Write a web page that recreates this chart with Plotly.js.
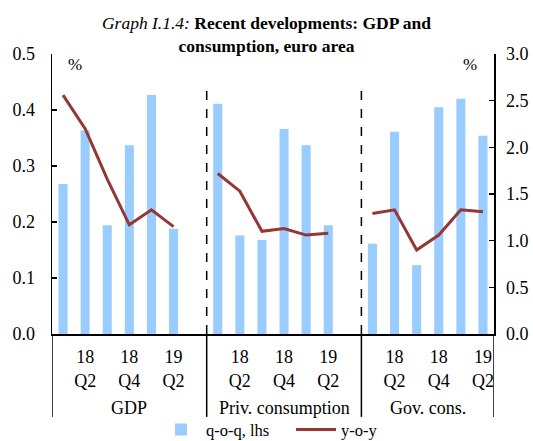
<!DOCTYPE html>
<html><head><meta charset="utf-8">
<script src="https://cdn.plot.ly/plotly-3.0.1.min.js"></script>
<style>html,body{margin:0;padding:0;background:#fff}#chart{width:533px;height:441px}</style>
</head><body><div id="chart"></div>
<script>
const groups = ['GDP', 'Priv. consumption', 'Gov. cons.'];
const quarters = ['18 Q1', '18 Q2', '18 Q3', '18 Q4', '19 Q1', '19 Q2'];
const tickQuarters = ['18 Q2', '18 Q4', '19 Q2'];
const qoqGDP  = [0.268, 0.364, 0.194, 0.337, 0.427, 0.188];
const qoqPriv = [0.411, 0.176, 0.168, 0.366, 0.337, 0.194];
const qoqGov  = [0.161, 0.361, 0.123, 0.405, 0.420, 0.354];
const yoyGDP  = [2.56, 2.20, 1.66, 1.17, 1.33, 1.15];
const yoyPriv = [1.72, 1.53, 1.10, 1.13, 1.06, 1.08];
const yoyGov  = [1.29, 1.33, 0.90, 1.06, 1.33, 1.31];
const titleText = '<i>Graph I.1.4:</i> <b>Recent developments: GDP and<br>consumption, euro area</b>';

const qoqAll = [qoqGDP, qoqPriv, qoqGov];
const yoyAll = [yoyGDP, yoyPriv, yoyGov];

const cats = [], qoq = [], yoy = [], tickvals = [], ticktext = [], dividers = [-0.5];
groups.forEach((g, gi) => {
  quarters.forEach((q, qi) => {
    const c = g + ' ' + q;
    cats.push(c); qoq.push(qoqAll[gi][qi]); yoy.push(yoyAll[gi][qi]);
    if (tickQuarters.includes(q)) { tickvals.push(c); ticktext.push(q.replace(' ', '<br>')); }
  });
  if (gi < groups.length - 1) { cats.push(g + ' gap'); qoq.push(null); yoy.push(null); }
  dividers.push(cats.length - 0.5);
});

const FONT = '"Liberation Serif", "Times New Roman", serif';
const shapes = [];
dividers.forEach(d => shapes.push({type: 'line', xref: 'x', yref: 'paper', x0: d, x1: d, y0: 0, y1: -0.296, line: {color: '#000', width: 1.5}}));
shapes.push({type: 'line', xref: 'x', yref: 'paper', x0: dividers[1], x1: dividers[1], y0: 0, y1: 0.886, line: {color: '#000', width: 1.5, dash: 'dash'}});
shapes.push({type: 'line', xref: 'x', yref: 'paper', x0: dividers[2], x1: dividers[2], y0: 0, y1: 0.868, line: {color: '#000', width: 1.5, dash: 'dash'}});

const annotations = groups.map((g, gi) => ({text: g, xref: 'x', yref: 'paper', x: (dividers[gi] + dividers[gi + 1]) / 2, xanchor: 'center', y: -0.264, yanchor: 'middle', showarrow: false, font: {family: FONT, size: 18, color: '#000'}}));
annotations.push({text: '%', xref: 'paper', yref: 'paper', x: (75 - 52) / 442, xanchor: 'center', y: (334 - 64) / 280, yanchor: 'middle', showarrow: false, font: {family: FONT, size: 17, color: '#000'}});
annotations.push({text: '%', xref: 'paper', yref: 'paper', x: (470 - 52) / 442, xanchor: 'center', y: (334 - 64) / 280, yanchor: 'middle', showarrow: false, font: {family: FONT, size: 17, color: '#000'}});

const data = [
  {type: 'bar', name: 'q-o-q, lhs', x: cats, y: qoq, marker: {color: '#99CCFF'}, yaxis: 'y'},
  {type: 'scatter', mode: 'lines', name: 'y-o-y', x: cats, y: yoy, yaxis: 'y2', line: {color: '#953735', width: 3}, connectgaps: false}
];

const layout = {
  width: 533, height: 441,
  margin: {l: 52, r: 39, t: 54, b: 107, autoexpand: false},
  paper_bgcolor: '#fff', plot_bgcolor: '#fff',
  font: {family: FONT, size: 18, color: '#000'},
  title: {text: titleText, x: 0.5, xref: 'container', xanchor: 'center', y: 1 - 29 / 441, yref: 'container', yanchor: 'middle', font: {family: FONT, size: 17.5, color: '#000'}},
  bargap: 0.59,
  showlegend: true,
  legend: {orientation: 'h', x: (156 - 52) / 442, xanchor: 'left', y: -0.342, yanchor: 'middle', font: {family: FONT, size: 16.5, color: '#000'}, itemwidth: 40, entrywidth: 80, bgcolor: 'rgba(0,0,0,0)'},
  xaxis: {type: 'category', categoryorder: 'array', categoryarray: cats, range: [-0.5, cats.length - 0.5], tickmode: 'array', tickvals: tickvals, ticktext: ticktext, ticks: '', showline: true, linecolor: '#000', linewidth: 1.5, showgrid: false, zeroline: false, tickfont: {family: FONT, size: 18}, tickangle: 0, ticklabelstandoff: 6},
  yaxis: {range: [0, 0.5], dtick: 0.1, tickformat: '.1f', ticks: 'inside', ticklen: 5, tickwidth: 1.5, tickcolor: '#000', showline: true, linecolor: '#000', linewidth: 1.5, showgrid: false, zeroline: false, tickfont: {family: FONT, size: 18}, ticklabelstandoff: 12},
  yaxis2: {range: [0, 3], dtick: 0.5, tickformat: '.1f', overlaying: 'y', side: 'right', ticks: 'inside', ticklen: 5, tickwidth: 1.5, tickcolor: '#000', showline: true, linecolor: '#000', linewidth: 1.5, showgrid: false, zeroline: false, tickfont: {family: FONT, size: 18}, ticklabelstandoff: 7},
  shapes: shapes,
  annotations: annotations
};
Plotly.newPlot('chart', data, layout, {displayModeBar: false, staticPlot: true});
</script></body></html>
